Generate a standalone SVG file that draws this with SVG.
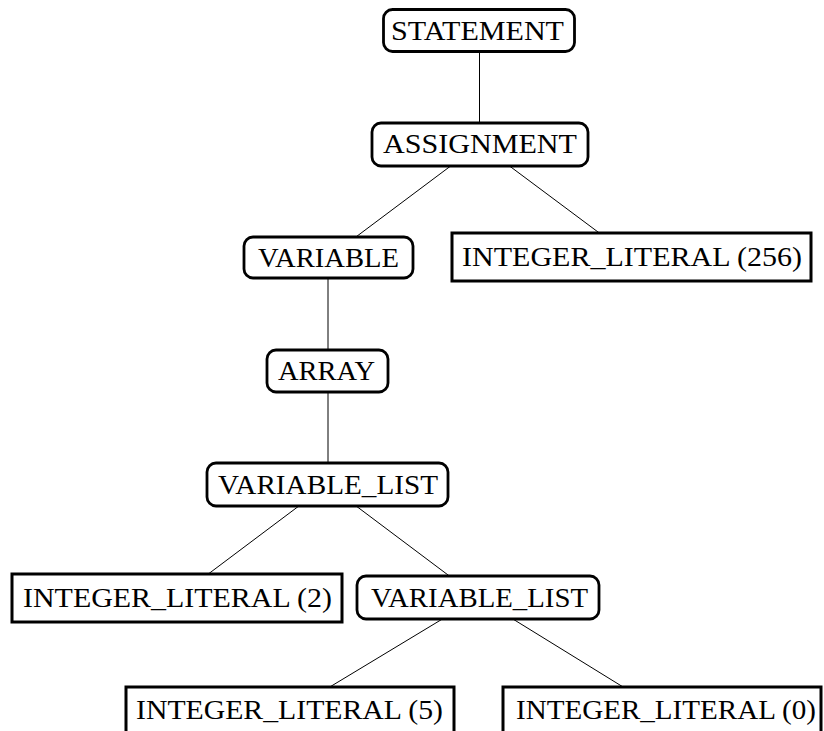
<svg xmlns="http://www.w3.org/2000/svg" width="824" height="731" viewBox="0 0 824 731">
<style>
.r{fill:#fff;stroke:#000;stroke-width:2.8}
.s{fill:#fff;stroke:#000;stroke-width:3}
.e{stroke:#000;stroke-width:1;fill:none}
text{font-family:"Liberation Serif","Times New Roman",serif;font-size:28px;fill:#000;text-anchor:middle}
</style>
<rect width="824" height="731" fill="#fff"/>
<g id="connectors">
<line class="e" x1="479.5" y1="30.5" x2="479.5" y2="144"/>
<line class="e" x1="480" y1="144" x2="328.5" y2="257.5"/>
<line class="e" x1="480" y1="144" x2="631.5" y2="257"/>
<line class="e" x1="328" y1="257.5" x2="328" y2="371"/>
<line class="e" x1="328" y1="371" x2="328" y2="484.5"/>
<line class="e" x1="327.5" y1="484.5" x2="177" y2="597.5"/>
<line class="e" x1="327.5" y1="484.5" x2="478" y2="597.5"/>
<line class="e" x1="478" y1="597.5" x2="290" y2="711"/>
<line class="e" x1="478" y1="597.5" x2="662" y2="711"/>
</g>
<g id="statement">
<rect class="r" x="383.5" y="9.5" width="191" height="42" rx="9"/>
<text x="477.5" y="39.5" textLength="173" lengthAdjust="spacingAndGlyphs">STATEMENT</text>
</g>
<g id="assignment">
<rect class="r" x="372" y="123" width="216" height="43" rx="9"/>
<text x="480" y="153" textLength="194" lengthAdjust="spacingAndGlyphs">ASSIGNMENT</text>
</g>
<g id="variable">
<rect class="r" x="244" y="237" width="169" height="41" rx="9"/>
<text x="328.5" y="266.5" textLength="141" lengthAdjust="spacingAndGlyphs">VARIABLE</text>
</g>
<g id="int256">
<rect class="s" x="452" y="233" width="359" height="48"/>
<text x="632" y="266" textLength="340" lengthAdjust="spacingAndGlyphs">INTEGER_LITERAL (256)</text>
</g>
<g id="array">
<rect class="r" x="267" y="350" width="121" height="42" rx="9"/>
<text x="326.5" y="380" textLength="97" lengthAdjust="spacingAndGlyphs">ARRAY</text>
</g>
<g id="variable_list_1">
<rect class="r" x="207" y="463" width="241" height="43" rx="9"/>
<text x="328" y="493.5" textLength="220" lengthAdjust="spacingAndGlyphs">VARIABLE_LIST</text>
</g>
<g id="int2">
<rect class="s" x="12" y="574" width="330" height="48"/>
<text x="177.5" y="606.5" textLength="309" lengthAdjust="spacingAndGlyphs">INTEGER_LITERAL (2)</text>
</g>
<g id="variable_list_2">
<rect class="r" x="357" y="576" width="242" height="43" rx="9"/>
<text x="479.5" y="606.5" textLength="217" lengthAdjust="spacingAndGlyphs">VARIABLE_LIST</text>
</g>
<g id="int5">
<rect class="s" x="126" y="687" width="328" height="49"/>
<text x="289.5" y="719" textLength="307" lengthAdjust="spacingAndGlyphs">INTEGER_LITERAL (5)</text>
</g>
<g id="int0">
<rect class="s" x="503" y="687" width="318" height="49"/>
<text x="666" y="719" textLength="300" lengthAdjust="spacingAndGlyphs">INTEGER_LITERAL (0)</text>
</g>
</svg>
